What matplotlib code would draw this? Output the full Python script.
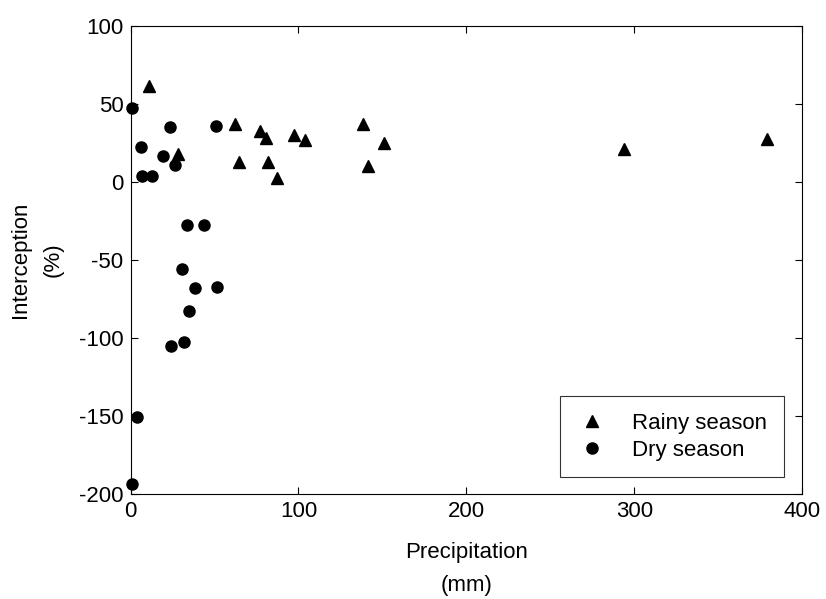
import matplotlib.pyplot as plt

plt.rcParams["font.family"] = ["Liberation Sans", "DejaVu Sans"]
plt.rcParams["axes.unicode_minus"] = False

# rainy season points (precipitation mm, interception %)
rainy_x = [11.2, 28.1, 62.3, 64.8, 77.2, 80.8, 82.1, 87.1, 97.4, 104.0,
           138.4, 141.1, 150.7, 293.7, 379.0]
rainy_y = [61.2, 17.7, 37.4, 12.8, 32.6, 28.2, 12.8, 2.8, 29.9, 26.7,
           36.9, 10.2, 25.2, 21.3, 27.3]

# dry season points
dry_x = [0.7, 23.5, 51.0, 6.3, 19.6, 26.5, 7.1, 12.6, 33.5, 43.8,
         30.5, 38.6, 51.5, 34.7, 24.1, 31.9, 3.7, 0.7]
dry_y = [47.6, 35.2, 36.1, 22.4, 16.4, 10.7, 3.8, 3.8, -27.9, -27.9,
         -56.0, -68.2, -67.2, -82.5, -104.9, -102.4, -150.7, -193.4]

x_ticks = [0, 100, 200, 300, 400]
y_ticks = [-200, -150, -100, -50, 0, 50, 100]

fs = 16

fig = plt.figure(figsize=(8.26, 5.99), dpi=100)
ax = fig.add_axes([0.158, 0.175, 0.8135, 0.782])

ax.plot(rainy_x, rainy_y, "^", color="black", ms=8.5, label="Rainy season", clip_on=False)
ax.plot(dry_x, dry_y, "o", color="black", ms=8, label="Dry season", clip_on=False)

ax.set_xlim(0, 400)
ax.set_ylim(-200, 100)
ax.set_xticks(x_ticks)
ax.set_yticks(y_ticks)
ax.tick_params(direction="in", top=True, right=True, labelsize=fs, length=5, width=0.8, pad=5)
for s in ax.spines.values():
    s.set_linewidth(0.8)

ax.set_xlabel("Precipitation\n(mm)", fontsize=fs, linespacing=1.75, labelpad=14)
ax.set_ylabel("Interception\n(%)", fontsize=fs, linespacing=1.75, labelpad=11)

leg = ax.legend(loc="lower right", bbox_to_anchor=(0.9725, 0.036), borderaxespad=0,
                fontsize=fs, frameon=True, fancybox=False, edgecolor="black",
                handletextpad=1.1, borderpad=0.75, handlelength=1.4, labelspacing=0.25)
leg.get_frame().set_linewidth(0.8)

plt.savefig("out.png", dpi=100)
